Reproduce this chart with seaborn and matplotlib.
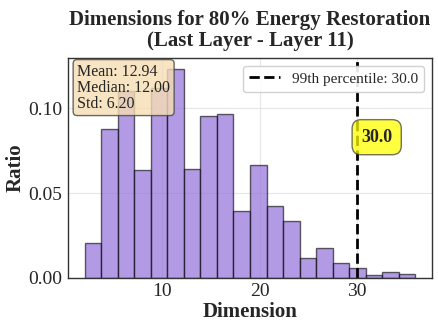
import matplotlib
matplotlib.use("Agg")
import matplotlib.pyplot as plt
import seaborn as sns
import numpy as np

# histogram bins (20 bins from 2 to 36) and ratio per bin
bin_edges = [2.0 + 1.7 * i for i in range(21)]
ratios = [0.0207, 0.0878, 0.1100, 0.0637, 0.1120, 0.1235, 0.0645, 0.0957,
          0.0967, 0.0397, 0.0667, 0.0424, 0.0334, 0.0115, 0.0178, 0.0085,
          0.0056, 0.0016, 0.0034, 0.0024]
mean_val = 12.94
median_val = 12.00
std_val = 6.20
p99 = 30.0

centers = [(bin_edges[i] + bin_edges[i + 1]) / 2 for i in range(len(ratios))]

sns.set_style("whitegrid")
plt.rcParams['font.family'] = ['Liberation Serif', 'DejaVu Serif']

fig, ax = plt.subplots(figsize=(4.39, 3.30), dpi=100)
sns.histplot(x=centers, weights=ratios, bins=bin_edges, stat="count",
             color="mediumpurple", alpha=0.7, edgecolor="black", linewidth=1.0,
             ax=ax)
for p in ax.patches:
    p.set_edgecolor((0, 0, 0, 0.6))

ax.axvline(p99, color="black", linestyle="--", linewidth=2,
           label=f"99th percentile: {p99:.1f}")
ax.text(p99 + 0.42, 0.083, f"{p99:.1f}", fontsize=13, fontweight="bold",
        ha="left", va="center",
        bbox=dict(boxstyle="round,pad=0.5", facecolor="yellow", alpha=0.75,
                  edgecolor="#444444"))

stats_txt = f"Mean: {mean_val:.2f}\nMedian: {median_val:.2f}\nStd: {std_val:.2f}"
ax.text(0.025, 0.975, stats_txt, transform=ax.transAxes, fontsize=11.5,
        va="top", ha="left", linespacing=1.0,
        bbox=dict(boxstyle="round,pad=0.25", facecolor="wheat", alpha=0.8,
                  edgecolor="#444444"))

ax.legend(loc="upper right", fontsize=11, framealpha=0.9)
ax.set_title("Dimensions for 80% Energy Restoration\n(Last Layer - Layer 11)",
             fontsize=15, fontweight="bold", linespacing=1.05, pad=9)
ax.set_xlabel("Dimension", fontsize=15, fontweight="bold", labelpad=1)
ax.set_ylabel("Ratio", fontsize=15, fontweight="bold", labelpad=2)
ax.set_xticks([10, 20, 30])
ax.set_yticks([0.0, 0.05, 0.10])
ax.set_yticklabels(["0.00", "0.05", "0.10"])
ax.tick_params(labelsize=14, length=3, width=0.8, pad=1)
for s in ax.spines.values():
    s.set_color("#333333")
    s.set_linewidth(1.0)
ax.grid(color="#e6e6e6", linewidth=0.8)

fig.subplots_adjust(left=0.155, right=0.984, top=0.824, bottom=0.158)
fig.savefig("out.png", dpi=100)
